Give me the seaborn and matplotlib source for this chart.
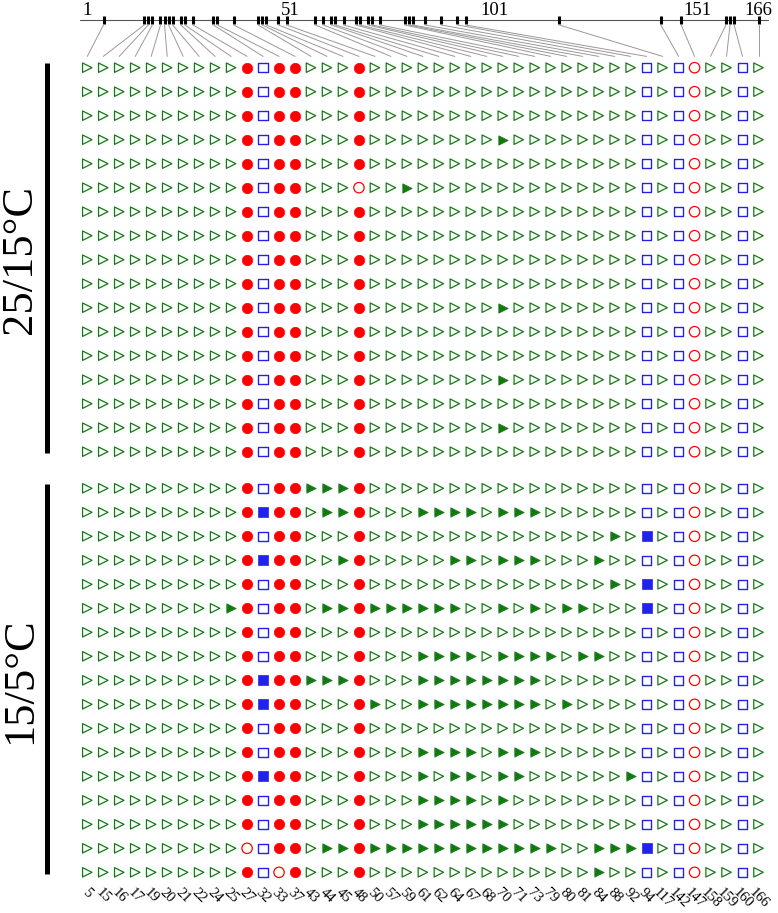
import numpy as np
import pandas as pd
import matplotlib
matplotlib.use('Agg')
import matplotlib.pyplot as plt
import seaborn as sns

sns.set_style('white')
plt.rcParams['font.family'] = ['Liberation Serif', 'DejaVu Serif']
plt.rcParams['text.color'] = 'black'

# positions on the 1-166 scale, one per grid column
loci = [5, 15, 16, 17, 19, 20, 21, 22, 24, 25, 27, 32, 33, 37, 43, 44, 45, 48,
        50, 57, 59, 61, 62, 64, 67, 68, 70, 71, 73, 79, 80, 81, 84, 88, 92, 94,
        117, 142, 147, 158, 159, 160, 166]
# marker class of each column: T triangle, C circle, S square
loci_type = list('TTTTTTTTTT' 'CSCC' 'TTTC' 'TTTTTTTTTTTTTTTTT' 'STSCTTST')
scale_labels = [1, 51, 101, 151, 166]
group_names = ['25/15°C', '15/5°C']

# 1 = filled marker, 0 = open marker
# blocks: cols 0-9 | 10-13 | 14-17 | 18-34 | 35-42
warm = [
    '0000000000 1011 0001 00000000000000000 00000000',
    '0000000000 1011 0001 00000000000000000 00000000',
    '0000000000 1011 0001 00000000000000000 00000000',
    '0000000000 1011 0001 00000000100000000 00000000',
    '0000000000 1011 0001 00000000000000000 00000000',
    '0000000000 1011 0000 00100000000000000 00000000',
    '0000000000 1011 0001 00000000000000000 00000000',
    '0000000000 1011 0001 00000000000000000 00000000',
    '0000000000 1011 0001 00000000000000000 00000000',
    '0000000000 1011 0001 00000000000000000 00000000',
    '0000000000 1011 0001 00000000100000000 00000000',
    '0000000000 1011 0001 00000000000000000 00000000',
    '0000000000 1011 0001 00000000000000000 00000000',
    '0000000000 1011 0001 00000000100000000 00000000',
    '0000000000 1011 0001 00000000000000000 00000000',
    '0000000000 1011 0001 00000000100000000 00000000',
    '0000000000 1011 0001 00000000000000000 00000000',
]
cold = [
    '0000000000 1011 1111 00000000000000000 00000000',
    '0000000000 1111 0111 00011110111000000 00000000',
    '0000000000 1011 0001 00000000000000010 10000000',
    '0000000000 1111 0011 00000110111000100 00000000',
    '0000000000 1011 0001 00000000000000010 10000000',
    '0000000001 1011 0111 11111100101011000 10000000',
    '0000000000 1011 0001 00000000000000000 00000000',
    '0000000000 1011 0001 00011110111101100 00000000',
    '0000000000 1111 1111 00011111111000000 00000000',
    '0000000000 1111 0001 10011111111010000 00000000',
    '0000000000 1011 0001 00000000000000000 00000000',
    '0000000000 1011 0001 00011110111000000 00000000',
    '0000000000 1111 0001 00010110110000001 00000000',
    '0000000000 1011 0001 00011110100000000 00000000',
    '0000000000 1011 0001 00011111100000000 00000000',
    '0000000000 0011 0111 11111111111100111 10000000',
    '0000000000 1001 0001 00000000000000100 00000000',
]

group_gap = 0.525

records = []
for g, grid in enumerate([warm, cold]):
    for r, line in enumerate(grid):
        for c, f in enumerate(line.replace(' ', '')):
            records.append({'group': g, 'row': r, 'col': c,
                            'kind': loci_type[c], 'filled': f == '1'})
df = pd.DataFrame(records)
df['y'] = df['row'] + df['group'] * (len(warm) + group_gap)


def to_col(p):
    # map the 1-166 scale onto the column axis
    return (np.asarray(p, dtype=float) - 1) / (166 - 1) * (len(loci) - 1)


fig = plt.figure(figsize=(7.78, 9.13), dpi=100)
ax = fig.add_axes([0, 0, 1, 1])

styles = {'T': ('>', '#137a13', 46, 0.9),
          'C': ('o', '#ff0000', 56, 0.9),
          'S': ('s', '#2222ee', 46, 1.0)}
for kind, (mk, colr, sz, lw) in styles.items():
    sub = df[(df['kind'] == kind) & df['filled']]
    if len(sub):
        sns.scatterplot(data=sub, x='col', y='y', marker=mk, s=sz, color=colr,
                        edgecolor=colr, linewidth=0.5, legend=False, ax=ax)
    sub = df[(df['kind'] == kind) & ~df['filled']]
    if len(sub):
        sns.scatterplot(data=sub, x='col', y='y', marker=mk, s=sz,
                        facecolors='none', edgecolor=colr, linewidth=lw,
                        legend=False, ax=ax)

# scale bar on top with ticks and connectors
bar_y = -1.99
ax.plot(to_col([-0.8, 168.3]), [bar_y, bar_y], color='#555555', lw=0.8)
ax.plot(to_col(loci), [bar_y] * len(loci), ls='none', marker='|', ms=5.8,
        mew=2.2, color='black')
for c, p in enumerate(loci):
    ax.plot([to_col(p), c], [-1.78, -0.47], color='#999999', lw=0.7)
for p in scale_labels:
    ax.text(to_col(p), -2.2, str(p), ha='center', va='baseline', fontsize=13.5)

# column labels at the bottom
last_y = df['y'].max()
for c, p in enumerate(loci):
    ax.text(c, last_y + 0.55, str(p), rotation=-45, ha='center', va='top',
            fontsize=10.5)

# group bars and names
for g, name in enumerate(group_names):
    y0 = g * (len(warm) + group_gap)
    ax.plot([-2.5, -2.5], [y0 - 0.2, y0 + len(warm) - 0.95], color='black',
            lw=3.6, solid_capstyle='butt')
    ax.text(-4.2, y0 + (len(warm) - 1) / 2, name, rotation=90, ha='center',
            va='center', fontsize=32)

ax.set_xlim(-5.46, 43.22)
ax.set_ylim(35.22, -2.82)
ax.axis('off')

fig.savefig('out.png', dpi=100)
